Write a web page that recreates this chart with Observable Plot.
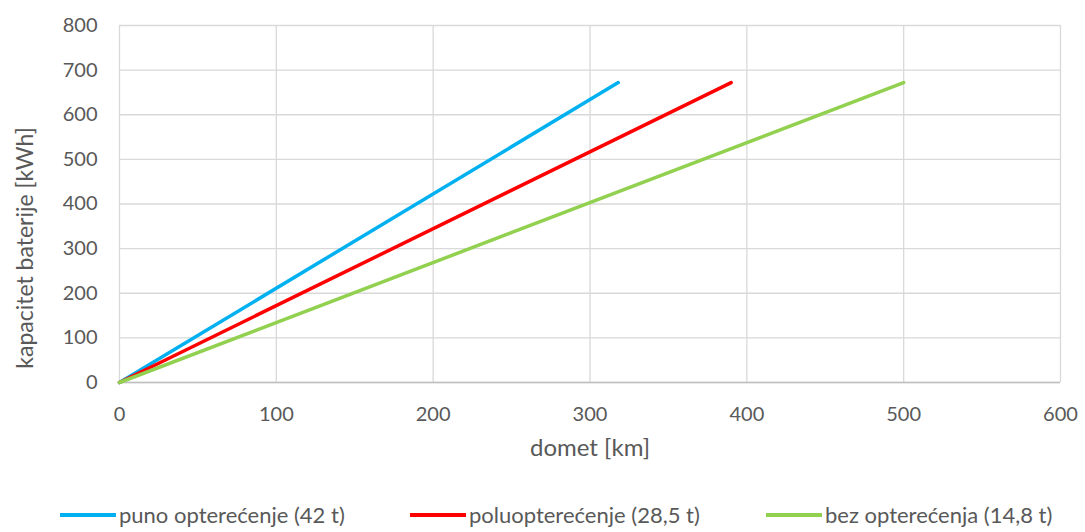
<!DOCTYPE html>
<html><head><meta charset="utf-8">
<script src="https://cdn.jsdelivr.net/npm/d3@7"></script>
<script src="https://cdn.jsdelivr.net/npm/@observablehq/plot@0.6"></script>
<style>
body{margin:0;background:#fff;font-family:Lato,"Open Sans",sans-serif;}
#legend{position:relative;height:62px;width:1085px;font-size:22px;color:#595959;}
.item{position:absolute;top:34px;display:flex;align-items:center;white-space:nowrap;line-height:1;}
.sw{width:56px;height:4px;margin-right:3px;}
</style></head>
<body><div id="chart"></div><div id="legend"></div>
<script>
const seriesNames = ["puno opterećenje (42 t)", "poluopterećenje (28,5 t)", "bez opterećenja (14,8 t)"];
const seriesColors = ["#00b0f0", "#ff0000", "#92d050"];
const rangeKm = [[0, 318], [0, 390], [0, 500]];
const capacityKWh = [[0, 672], [0, 672], [0, 672]];
const xTicks = [0, 100, 200, 300, 400, 500, 600];
const yTicks = [0, 100, 200, 300, 400, 500, 600, 700, 800];
const xLabel = "domet [km]";
const yLabel = "kapacitet baterije [kWh]";

const data = [];
seriesNames.forEach((s, i) => rangeKm[i].forEach((x, j) => data.push({series: s, x, y: capacityKWh[i][j]})));

const chart = Plot.plot({
  width: 1085, height: 470,
  marginLeft: 119, marginRight: 25, marginTop: 25, marginBottom: 88,
  style: {fontFamily: "Lato, 'Open Sans', sans-serif", fontSize: "20px", color: "#595959", background: "#fff"},
  x: {domain: [0, 600], ticks: xTicks, tickSize: 0, tickPadding: 24, label: null},
  y: {domain: [0, 800], ticks: yTicks, tickSize: 0, tickPadding: 22, label: null},
  color: {domain: seriesNames, range: seriesColors},
  marks: [
    Plot.gridX(xTicks, {stroke: "#d9d9d9", strokeOpacity: 1, strokeWidth: 1.3}),
    Plot.gridY(yTicks, {stroke: "#d9d9d9", strokeOpacity: 1, strokeWidth: 1.3}),
    Plot.ruleY([0], {stroke: "#bfbfbf", strokeWidth: 1.3}),
    Plot.line(data, {x: "x", y: "y", z: "series", stroke: "series", strokeWidth: 3.5, strokeLinecap: "round"}),
    Plot.text([yLabel], {frameAnchor: "left", textAnchor: "middle", dx: -94, dy: 44, rotate: -90, fontSize: 23, fill: "#595959", text: d => d}),
    Plot.text([xLabel], {frameAnchor: "bottom", textAnchor: "middle", dy: 73, fontSize: 24, fill: "#595959", text: d => d})
  ]
});
document.getElementById("chart").appendChild(chart);

const lefts = [60, 410, 766];
const legend = document.getElementById("legend");
seriesNames.forEach((s, i) => {
  const d = document.createElement("div");
  d.className = "item"; d.style.left = lefts[i] + "px";
  d.innerHTML = `<span class="sw" style="background:${seriesColors[i]}"></span><span>${s}</span>`;
  legend.appendChild(d);
});
</script></body></html>
